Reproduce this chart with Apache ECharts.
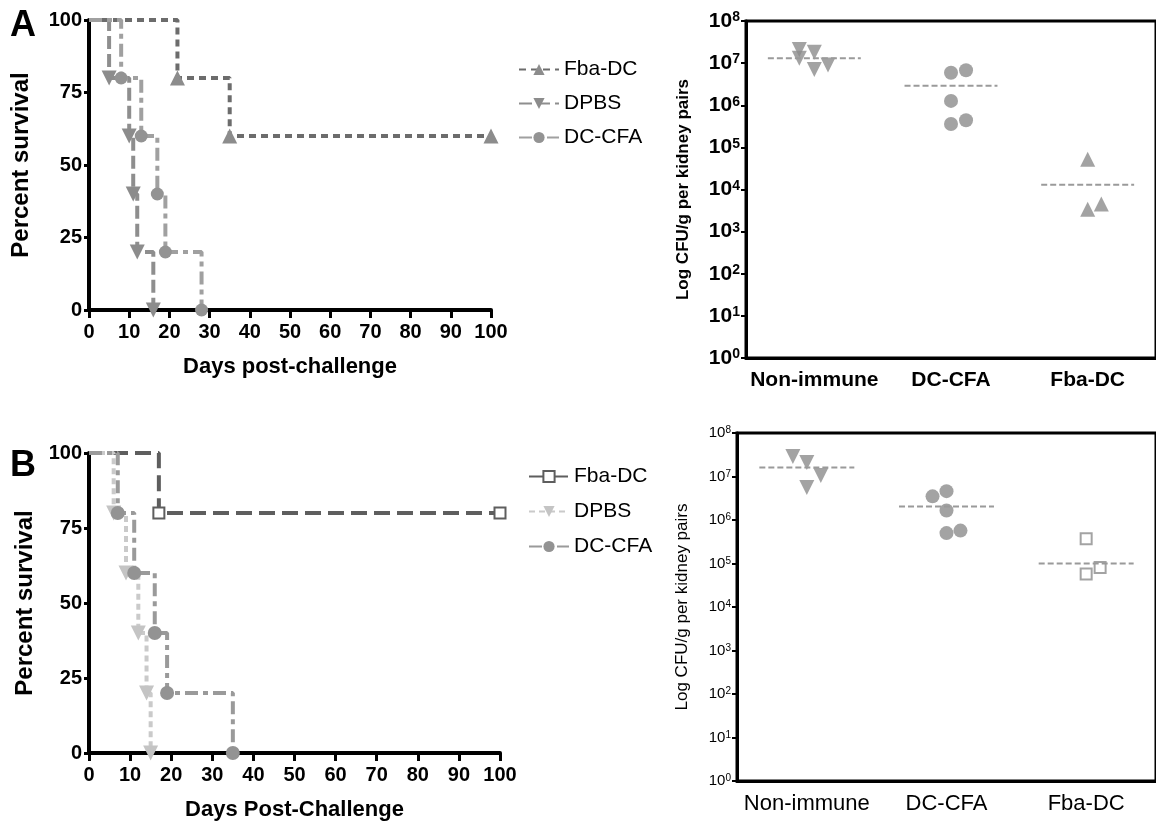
<!DOCTYPE html>
<html>
<head>
<meta charset="utf-8">
<script src="https://cdn.jsdelivr.net/npm/echarts@6/dist/echarts.min.js"></script>
<style>
html, body { margin: 0; padding: 0; background: #fff; }
#echar { width: 1156px; height: 827px; }
</style>
</head>
<body>
<div id="echar"></div>
<script>
// survival, panel A
var daysAFba = [0, 22, 35, 100];
var survAFba = [100, 80, 60, 60];
var daysADpbs = [0, 5, 10, 11, 12, 16];
var survADpbs = [100, 80, 60, 40, 20, 0];
var daysACfa = [0, 8, 13, 17, 19, 28];
var survACfa = [100, 80, 60, 40, 20, 0];

// survival, panel B
var daysBFba = [0, 17, 100];
var survBFba = [100, 80, 80];
var daysBDpbs = [0, 6, 9, 12, 14, 15];
var survBDpbs = [100, 80, 60, 40, 20, 0];
var daysBCfa = [0, 7, 11, 16, 19, 35];
var survBCfa = [100, 80, 60, 40, 20, 0];

// kidney CFU, right panels
var groups = ['Non-immune', 'DC-CFA', 'Fba-DC'];
var cfuANon = [2.1e7, 1.3e7, 1.8e7, 7.1e6, 9.0e6];
var jitANon = [-0.11, -0.11, 0, 0, 0.1];
var cfuACfa = [5.9e6, 6.8e6, 1.27e6, 3.6e5, 4.4e5];
var jitACfa = [0, 0.11, 0, 0, 0.11];
var cfuAFba = [5.2e4, 3.4e3, 4.5e3];
var jitAFba = [0, 0, 0.1];
var meanA = [1.3e7, 2.9e6, 1.3e4];

var cfuBNon = [2.9e7, 2.1e7, 1.05e7, 5.6e6];
var jitBNon = [-0.1, 0, 0.1, 0];
var cfuBCfa = [3.5e6, 4.6e6, 1.66e6, 5.0e5, 5.7e5];
var jitBCfa = [-0.1, 0, 0, 0, 0.1];
var cfuBFba = [3.7e5, 5.7e4, 8.1e4];
var jitBFba = [0, 0, 0.1];
var meanB = [1.6e7, 2.05e6, 1.0e5];

var FONT = 'Liberation Sans, Arial, sans-serif';

var myChart = echarts.init(document.getElementById('echar'));

function km(name, days, surv, idx, color, dash, symbol, symColor, symSize, extra) {
    var s = {
        name: name,
        type: 'line',
        step: 'end',
        xAxisIndex: idx,
        yAxisIndex: idx,
        clip: false,
        symbol: symbol,
        symbolSize: symSize,
        showAllSymbol: true,
        lineStyle: { color: color, width: 4, type: dash },
        itemStyle: { color: symColor },
        data: days.map(function (d, i) {
            return i === 0 ? { value: [d, surv[i]], symbol: 'none' } : [d, surv[i]];
        })
    };
    if (extra) { for (var k in extra) s[k] = extra[k]; }
    return s;
}

function dots(vals, jit, gi, xi, yi, symbol, color, size, extra) {
    var s = {
        type: 'scatter',
        xAxisIndex: xi,
        yAxisIndex: yi,
        symbol: symbol,
        symbolSize: size,
        itemStyle: { color: color },
        data: vals.map(function (v, i) { return [gi + 0.5 + jit[i], v]; })
    };
    if (extra) { for (var k in extra) s[k] = extra[k]; }
    return s;
}

// dashed mean line across each group
function meanLines(means, xi, yi) {
    return means.map(function (m, i) {
        return {
            type: 'line',
            xAxisIndex: xi,
            yAxisIndex: yi,
            symbol: 'none',
            lineStyle: { color: '#9a9a9a', width: 2, type: [6, 3] },
            data: [[i + 0.16, m], [i + 0.84, m]]
        };
    });
}

function survX(idx, name) {
    return {
        type: 'value', gridIndex: idx, min: 0, max: 100, interval: 10,
        name: name, nameLocation: 'middle', nameGap: 46,
        nameTextStyle: { fontFamily: FONT, fontWeight: 'bold', fontSize: 22, color: '#000' },
        axisLine: { lineStyle: { color: '#000', width: 4 } },
        axisTick: { length: 8, lineStyle: { color: '#000', width: 3 } },
        axisLabel: { margin: 12, fontFamily: FONT, fontWeight: 'bold', fontSize: 20, color: '#000' },
        splitLine: { show: false }
    };
}

function survY(idx, gap) {
    return {
        type: 'value', gridIndex: idx, min: 0, max: 100, interval: 25,
        name: 'Percent survival', nameLocation: 'middle', nameGap: gap,
        nameTextStyle: { fontFamily: FONT, fontWeight: 'bold', fontSize: 24, color: '#000' },
        axisLine: { show: true, lineStyle: { color: '#000', width: 4 } },
        axisTick: { show: true, length: 5, lineStyle: { color: '#000', width: 3 } },
        axisLabel: { margin: 7, fontFamily: FONT, fontWeight: 'bold', fontSize: 20, color: '#000' },
        splitLine: { show: false }
    };
}

function catX(idx, bold, size) {
    return {
        type: 'category', gridIndex: idx, data: groups, boundaryGap: true,
        axisLine: { lineStyle: { color: '#000', width: 3 } },
        axisTick: { alignWithLabel: true, length: 8, lineStyle: { color: '#000', width: 2 } },
        axisLabel: { interval: 0, margin: 12, fontFamily: FONT, fontWeight: bold ? 'bold' : 'normal', fontSize: size, color: '#000' }
    };
}

function hiddenX(idx) {
    return { type: 'value', gridIndex: idx, min: 0, max: 3, show: false };
}

function logY(idx, bold, size, gap) {
    return {
        type: 'log', logBase: 10, gridIndex: idx, min: 1, max: 1e8, interval: 1,
        name: 'Log CFU/g per kidney pairs', nameLocation: 'middle', nameGap: gap,
        nameTextStyle: { fontFamily: FONT, fontWeight: bold ? 'bold' : 'normal', fontSize: 17, color: '#000' },
        axisLine: { show: true, lineStyle: { color: '#000', width: 3 } },
        axisTick: { show: true, length: 5, lineStyle: { color: '#000', width: 2 } },
        axisLabel: {
            margin: 6,
            formatter: function (v) {
                return '{b|10}{s|' + Math.round(Math.log10(v)) + '}';
            },
            rich: {
                b: { fontFamily: FONT, fontWeight: bold ? 'bold' : 'normal', fontSize: size, color: '#000', verticalAlign: 'bottom' },
                s: { fontFamily: FONT, fontWeight: bold ? 'bold' : 'normal', fontSize: Math.round(size * 0.65), color: '#000', verticalAlign: 'top' }
            }
        },
        splitLine: { show: false }
    };
}

function legendFor(names, left, top, gap) {
    return {
        data: names, orient: 'vertical', left: left, top: top,
        itemWidth: 40, itemHeight: 14, itemGap: gap, selectedMode: false,
        formatter: function (n) { return n.split('|')[0]; },
        textStyle: { fontFamily: FONT, fontSize: 21, color: '#000' }
    };
}

var series = [
    km('Fba-DC|A', daysAFba, survAFba, 0, '#6c6c6c', [7, 5], 'triangle', '#8c8c8c', 15),
    km('DPBS|A', daysADpbs, survADpbs, 0, '#8e8e8e', [13, 5], 'triangle', '#8c8c8c', 15, { symbolRotate: 180 }),
    km('DC-CFA|A', daysACfa, survACfa, 0, '#a0a0a0', [13, 5, 5, 5], 'circle', '#939393', 13),
    km('Fba-DC|B', daysBFba, survBFba, 1, '#5e5e5e', [16, 7], 'rect', '#fff', 11, { itemStyle: { color: '#fff', borderColor: '#5e5e5e', borderWidth: 2 } }),
    km('DPBS|B', daysBDpbs, survBDpbs, 1, '#cacaca', [6, 4], 'triangle', '#c4c4c4', 15, { symbolRotate: 180 }),
    km('DC-CFA|B', daysBCfa, survBCfa, 1, '#9a9a9a', [13, 5, 5, 5], 'circle', '#939393', 14),
    dots(cfuANon, jitANon, 0, 3, 2, 'triangle', '#8c8c8c', 15, { symbolRotate: 180 }),
    dots(cfuACfa, jitACfa, 1, 3, 2, 'circle', '#8c8c8c', 14),
    dots(cfuAFba, jitAFba, 2, 3, 2, 'triangle', '#8c8c8c', 15),
    dots(cfuBNon, jitBNon, 0, 5, 3, 'triangle', '#8c8c8c', 15, { symbolRotate: 180 }),
    dots(cfuBCfa, jitBCfa, 1, 5, 3, 'circle', '#8c8c8c', 14),
    dots(cfuBFba, jitBFba, 2, 5, 3, 'rect', '#fff', 11, { itemStyle: { color: '#fff', borderColor: '#8c8c8c', borderWidth: 2 } })
].concat(meanLines(meanA, 3, 2), meanLines(meanB, 5, 3));

option = {
    animation: false,
    backgroundColor: '#fff',
    graphic: [
        { type: 'text', left: 10, top: 8, style: { text: 'A', font: 'bold 36px ' + FONT, fill: '#000' } },
        { type: 'text', left: 10, top: 448, style: { text: 'B', font: 'bold 36px ' + FONT, fill: '#000' } }
    ],
    legend: [
        legendFor(['Fba-DC|A', 'DPBS|A', 'DC-CFA|A'], 513, 54, 13),
        legendFor(['Fba-DC|B', 'DPBS|B', 'DC-CFA|B'], 523, 461, 14)
    ],
    grid: [
        { left: 89, top: 20, width: 402, height: 290 },
        { left: 89, top: 453, width: 411, height: 300 },
        { left: 746, top: 21, width: 412, height: 337, show: true, borderColor: '#000', borderWidth: 3 },
        { left: 737, top: 433, width: 424, height: 348, show: true, borderColor: '#000', borderWidth: 3 }
    ],
    xAxis: [
        survX(0, 'Days post-challenge'),
        survX(1, 'Days Post-Challenge'),
        catX(2, true, 21),
        hiddenX(2),
        catX(3, false, 22),
        hiddenX(3)
    ],
    yAxis: [
        survY(0, 56),
        survY(1, 52),
        logY(2, true, 21, 54),
        logY(3, false, 15, 46)
    ],
    series: series
};

myChart.setOption(option);
</script>
</body>
</html>
